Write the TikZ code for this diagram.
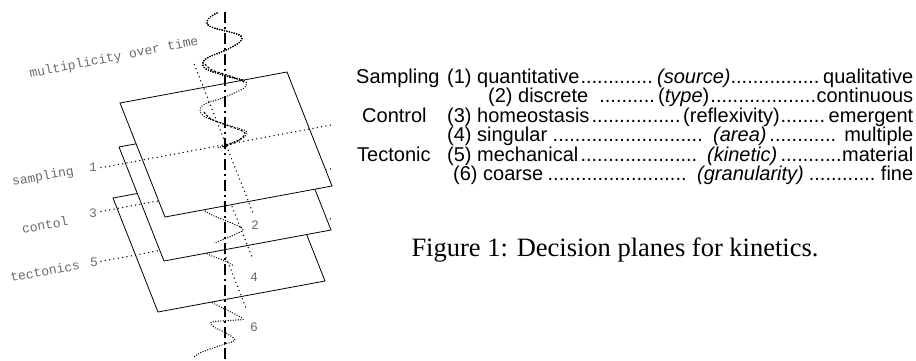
\documentclass[tikz,border=0pt]{standalone}
\usepackage{fontspec}
\setmainfont{Liberation Sans}
\newfontfamily\capfont{Liberation Serif}
\newfontfamily\labfont{Liberation Mono}
\usetikzlibrary{calc}
% dense dot leaders between the terms of a row
\newcommand\lead{\leaders\hbox{.}\hfill}

\begin{document}
\begin{tikzpicture}[x=1pt,y=-1pt,
  plane/.style={draw=black,line width=0.8pt,fill=white},
  guide/.style={line width=1.5pt,dash pattern=on 0pt off 4.4pt,line cap=round},
  helix/.style={line width=1.4pt,dash pattern=on 0pt off 2.5pt,line cap=round},
  strand/.style={line width=1.1pt,dash pattern=on 2.2pt off 1.6pt},
  axisline/.style={line width=2.3pt,dash pattern=on 11pt off 4pt on 2pt off 4pt},
  tag/.style={text=black!58,font=\labfont\fontsize{13}{13}\selectfont,inner sep=0pt},
  row/.style={anchor=base west,inner sep=0pt,font=\fontsize{20}{20}\selectfont},
  helixpath/.style={insert path={plot[smooth,tension=0.55] coordinates {
    (217,13) (209,18) (207,24) (214,28) (230,32) (241,36) (240,42) (226,50)
    (209,57) (203,62) (206,69) (226,76) (245,81) (244,88) (225,97) (205,104)
    (200,110) (205,117) (227,125) (246,131) (243,138) (226,145) (210,151)
    (201,157) (204,164) (223,172) (243,179) (243,186) (225,194) (206,201)
    (201,207) (212,215) (242,228) (236,234) (222,240) (208,246) (204,251)
    (212,256) (225,261) (238,269) (241,277) (232,285) (215,293) (208,298)
    (213,303) (242,318) (236,320) (212,322) (214,327) (224,332) (235,340)
    (222,345) (202,352) (194,357)}}},
  % front strokes of the upper coils
  frontpath/.style={insert path={plot[smooth,tension=0.55] coordinates {
    (205,64) (212,70) (230,76) (244,82)}
    plot[smooth,tension=0.55] coordinates {
    (204,112) (211,119) (229,126) (245,133) (236,142) (222,147)}}}]
\useasboundingbox (0,0) rectangle (916,360);

% plane corners
\coordinate (p1a) at (120,103); \coordinate (p1b) at (287,72);
\coordinate (p1c) at (332,186); \coordinate (p1d) at (165,217);
\coordinate (p2a) at (119,147); \coordinate (p2b) at (286,116);
\coordinate (p2c) at (331,230); \coordinate (p2d) at (164,261);
\coordinate (p3a) at (113,198); \coordinate (p3b) at (280,167);
\coordinate (p3c) at (325,281); \coordinate (p3d) at (158,312);

% end points of the dotted guides through each plane centre
\coordinate (h1s) at (101,167.7); \coordinate (h1e) at (334,124.5);
\coordinate (v1s) at (194.4,64.5); \coordinate (v1e) at (254.0,215.5);
\coordinate (h2s) at (101,211.5); \coordinate (h2e) at (334,168.3);
\coordinate (v2s) at (193.4,108.5); \coordinate (v2e) at (253.0,259.5);
\coordinate (h3s) at (101,261.4); \coordinate (h3e) at (334,218.2);
\coordinate (v3s) at (187.4,159.5); \coordinate (v3e) at (247.0,310.5);

% the time axis
\coordinate (axtop) at (225,12); \coordinate (axbot) at (225,360);

% helix, lowest layer
\draw[helix,helixpath];

% tectonic plane
\draw[plane] (p3a) -- (p3b) -- (p3c) -- (p3d) -- cycle;
\draw[guide] (h3s) -- (h3e);
\draw[guide] (v3s) -- (v3e);
\begin{scope}
  \clip (0,0) rectangle (916,265);
  \draw[helix,helixpath];
\end{scope}

% control plane
\draw[plane] (p2a) -- (p2b) -- (p2c) -- (p2d) -- cycle;
\draw[guide] (h2s) -- (h2e);
\draw[guide] (v2s) -- (v2e);
\begin{scope}
  \clip (0,0) rectangle (916,242);
  \draw[helix,helixpath];
\end{scope}

% sampling plane
\draw[plane] (p1a) -- (p1b) -- (p1c) -- (p1d) -- cycle;
\draw[guide] (h1s) -- (h1e);
\draw[guide] (v1s) -- (v1e);
\begin{scope}
  \clip (0,0) rectangle (916,147);
  \draw[helix,helixpath];
  \draw[strand,frontpath];
\end{scope}

\draw[axisline] (axtop) -- (axbot);

% labels of the planes
\node[tag,rotate=11] (ltime) at (114,58) {multiplicity over time};
\node[tag,rotate=10.5] (lsamp) at (43,177) {sampling};
\node[tag,rotate=10.5] (lcont) at (45,225) {contol};
\node[tag,rotate=10.5] (ltect) at (45,271) {tectonics};
\node[tag] (n1) at (93,167) {1};
\node[tag] (n3) at (93,213) {3};
\node[tag] (n5) at (94,262) {5};
\node[tag] (n2) at (255,225) {2};
\node[tag] (n4) at (254,277) {4};
\node[tag] (n6) at (254,327) {6};

% decision table
\node[row] (gsamp) at (356,83) {Sampling};
\node[row] (gcont) at (362,122) {Control};
\node[row] (gtect) at (357,161) {Tectonic};
\node[row] (r1) at (447,83) {\hbox to 466pt{\hbox to 210pt{(1) quantitative\lead}\textit{(source)}\lead qualitative}};
\node[row] (r2) at (488,102.5) {\hbox to 425pt{\hbox to 170pt{(2) discrete \lead}(\textit{type})\lead continuous}};
\node[row] (r3) at (447,122) {\hbox to 466pt{\hbox to 236pt{(3) homeostasis\lead}(reflexivity)\lead emergent}};
\node[row] (r4) at (447,141.5) {\hbox to 466pt{\hbox to 266pt{(4) singular\lead\ }\textit{(area)}\lead\ multiple}};
\node[row] (r5) at (447,161) {\hbox to 466pt{\hbox to 260pt{(5) mechanical\lead\ }\textit{(kinetic)}\lead material}};
\node[row] (r6) at (453,180.5) {\hbox to 460pt{\hbox to 244pt{(6) coarse\lead\ }\textit{(granularity)}\lead fine}};

\node[anchor=base,inner sep=0pt,font=\capfont\fontsize{26.5}{26.5}\selectfont] (cap) at (615,256) {Figure 1: Decision planes for kinetics.};
\end{tikzpicture}
\end{document}
